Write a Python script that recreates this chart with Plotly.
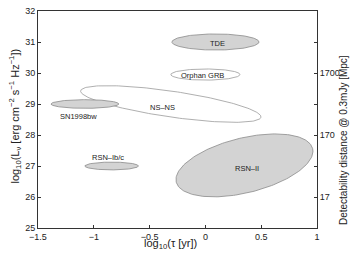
import numpy as np
import plotly.graph_objects as go

# ---- data ----
names = ["TDE", "Orphan GRB", "NS\u2013NS", "SN1998bw", "RSN\u2013Ib/c", "RSN\u2013II"]
center_logtau = [0.09, 0.0, -0.31, -1.08, -0.84, 0.35]
center_logL = [31.0, 29.95, 29.0, 29.0, 27.0, 27.02]
semi_major_logtau = [0.39, 0.31, 0.817, 0.304, 0.24, 0.63]
semi_minor_logL = [0.26, 0.18, 0.416, 0.14, 0.126, 0.883]
tilt_deg = [0.0, 0.0, -8.5, 0.0, 0.0, 14.25]
filled = [True, False, False, True, True, True]
label_logtau = [0.107, -0.027, -0.384, -1.14, -0.875, 0.369]
label_logL = [30.96, 29.93, 28.88, 28.61, 27.28, 26.91]

x_ticks = [-1.5, -1, -0.5, 0, 0.5, 1]
x_ticklabels = ["\u22121.5", "\u22121", "\u22120.5", "0", "0.5", "1"]
y_ticks = [25, 26, 27, 28, 29, 30, 31, 32]
dist_tick_logL = [25, 26, 27, 28, 29, 30, 31, 32]
dist_ticklabels = ["", "17", "", "170", "", "1700", "", ""]

# ---- layout geometry ----
W, H = 354, 255
ML, MR, MT, MB = 38, 37, 6, 27
xr = [-1.5, 1.0]
yr = [25.0, 32.0]
px_per_x = (W - ML - MR) / (xr[1] - xr[0])
px_per_y = (H - MT - MB) / (yr[1] - yr[0])

fig = go.Figure()
t = np.linspace(0, 2 * np.pi, 200)
for i in range(len(names)):
    a = semi_major_logtau[i] * px_per_x
    b = semi_minor_logL[i] * px_per_y
    th = np.deg2rad(tilt_deg[i])
    u = a * np.cos(t) * np.cos(th) - b * np.sin(t) * np.sin(th)
    v = a * np.cos(t) * np.sin(th) + b * np.sin(t) * np.cos(th)
    xs = center_logtau[i] + u / px_per_x
    ys = center_logL[i] + v / px_per_y
    if filled[i]:
        fig.add_trace(go.Scatter(x=xs, y=ys, mode="lines", fill="toself",
                                 fillcolor="#d3d3d3",
                                 line=dict(color="#8a8a8a", width=0.8),
                                 hoverinfo="skip", showlegend=False))
    else:
        fig.add_trace(go.Scatter(x=xs, y=ys, mode="lines",
                                 line=dict(color="#9a9a9a", width=0.8),
                                 hoverinfo="skip", showlegend=False))
    fig.add_annotation(x=label_logtau[i], y=label_logL[i], text=names[i],
                       showarrow=False, xref="x", yref="y",
                       xanchor="center", yanchor="middle",
                       font=dict(size=7.5, color="#222222", family="Liberation Sans"))

# invisible trace for right axis
fig.add_trace(go.Scatter(x=[None], y=[None], yaxis="y2", showlegend=False))

font = dict(family="Liberation Sans, Arial, sans-serif", size=9, color="#222222")
fig.update_layout(
    width=W, height=H,
    margin=dict(l=ML, r=MR, t=MT, b=MB),
    paper_bgcolor="white", plot_bgcolor="white",
    font=font,
    showlegend=False,
    xaxis=dict(range=xr, tickvals=x_ticks, ticktext=x_ticklabels,
               showgrid=False, zeroline=False, showline=True, linecolor="#333333",
               linewidth=1, mirror=True, ticks="inside", ticklen=3, tickcolor="#333333",
               tickfont=font),
    yaxis=dict(range=yr, tickvals=y_ticks, showgrid=False, zeroline=False,
               showline=True, linecolor="#333333", linewidth=1,
               ticks="inside", ticklen=3, tickcolor="#333333", tickfont=font),
    yaxis2=dict(range=yr, overlaying="y", side="right", tickvals=dist_tick_logL,
                ticktext=dist_ticklabels, showgrid=False, zeroline=False,
                showline=True, linecolor="#333333", linewidth=1,
                ticks="inside", ticklen=3, tickcolor="#333333", tickfont=font),
)

pw, ph = W - ML - MR, H - MT - MB
def px2paper(px, py):
    return (px - ML) / pw, (H - MB - py) / ph

tx, ty = px2paper(15, 114)
fig.add_annotation(x=tx, y=ty, xref="paper", yref="paper", showarrow=False, textangle=-90,
                   xanchor="center", yanchor="middle",
                   text="log<sub>10</sub>(L<sub>\u03bd</sub> [erg cm<sup>\u22122</sup> s<sup>\u22121</sup> Hz<sup>\u22121</sup>])",
                   font=dict(family="Liberation Sans", size=11, color="#222222"))
tx, ty = px2paper(343, 138)
fig.add_annotation(x=tx, y=ty, xref="paper", yref="paper", showarrow=False, textangle=-90,
                   xanchor="center", yanchor="middle",
                   text="Detectability distance @ 0.3mJy [Mpc]",
                   font=dict(family="Liberation Sans", size=10, color="#222222"))
tx, ty = px2paper(170, 244)
fig.add_annotation(x=tx, y=ty, xref="paper", yref="paper", showarrow=False,
                   xanchor="center", yanchor="middle",
                   text="log<sub>10</sub>(\u03c4 [yr])",
                   font=dict(family="Liberation Sans", size=11, color="#222222"))

fig.write_html("out.html", config={"displayModeBar": False},
               post_script="document.body.style.margin='0px';document.body.style.padding='0px';")
